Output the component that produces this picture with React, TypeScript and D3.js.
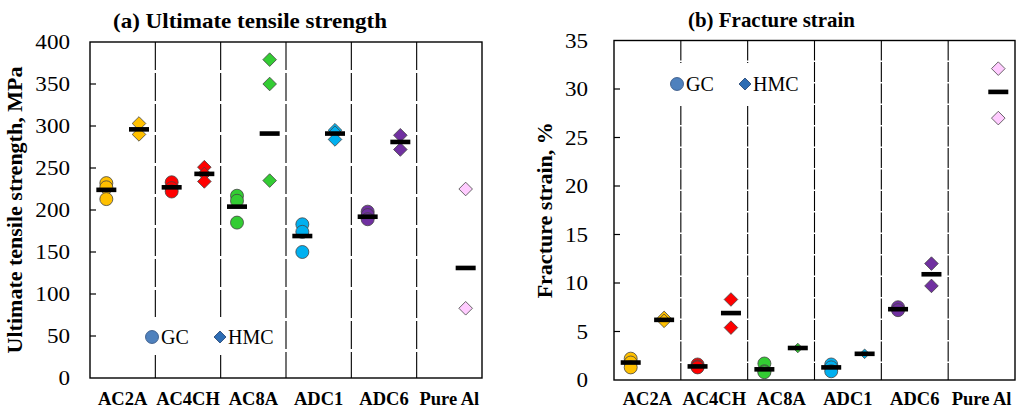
import React, { useEffect, useRef } from 'react';
import * as d3 from 'd3';

// categories and colours
const categories = ['AC2A', 'AC4CH', 'AC8A', 'ADC1', 'ADC6', 'Pure Al'];
const catColors = ['#FFC000', '#FF0000', '#33CC33', '#00B0F0', '#7030A0', '#FFCCFF'];

// (a) ultimate tensile strength, MPa
const utsGC = [[232, 227, 213], [233, 226, 222], [217, 211, 185], [183, 174, 150], [198, 194, 189], []];
const utsHMC = [[303, 290], [251, 243, 234], [379, 350, 235], [295, 292, 284], [289, 272], [225, 83]];
const utsGCMean = [224, 227, 204, 169, 192, null];
const utsHMCMean = [296, 243, 291, 291, 281, 131];
const utsTicks = [0, 50, 100, 150, 200, 250, 300, 350, 400];

// (b) fracture strain, %
const fsGC = [[2.2, 1.8, 1.3], [1.6, 1.4, 1.3], [1.7, 0.9, 0.8], [1.6, 1.3, 0.9], [7.5, 7.2], []];
const fsHMC = [[6.4, 6.1], [8.3, 5.4], [3.3], [2.7], [12.0, 9.7], [32.1, 27.0]];
const fsGCMean = [1.8, 1.4, 1.1, 1.3, 7.3, null];
const fsHMCMean = [6.2, 6.9, 3.3, 2.7, 10.9, 29.7];
const fsTicks = [0, 5, 10, 15, 20, 25, 30, 35];

const FONT = '"Liberation Serif", "Times New Roman", serif';

interface PanelCfg {
  left: number;
  right: number;
  top: number;
  bottom: number;
  max: number;
  ticks: number[];
  gc: number[][];
  hmc: number[][];
  gcMean: (number | null)[];
  hmcMean: (number | null)[];
  title: string;
  titleX: number;
  titleY: number;
  titleLen: number;
  yLabel: string;
  yLabelX: number;
  tickLabelX: number;
  dash: string;
  legend: { x: number; y: number; boxX: number; boxW: number; boxY: number; boxH: number };
  smallHMC: string[];
}

const panels: PanelCfg[] = [
  {
    left: 90, right: 482, top: 42, bottom: 378, max: 400, ticks: utsTicks,
    gc: utsGC, hmc: utsHMC, gcMean: utsGCMean, hmcMean: utsHMCMean,
    title: '(a) Ultimate tensile strength', titleX: 113, titleY: 28, titleLen: 274,
    yLabel: 'Ultimate tensile strength, MPa', yLabelX: 22, tickLabelX: 70,
    dash: '28,3',
    legend: { x: 152, y: 337, boxX: 140, boxW: 140, boxY: 317, boxH: 38 },
    smallHMC: [],
  },
  {
    left: 614, right: 1015, top: 40.5, bottom: 380, max: 35, ticks: fsTicks,
    gc: fsGC, hmc: fsHMC, gcMean: fsGCMean, hmcMean: fsHMCMean,
    title: '(b) Fracture strain', titleX: 688, titleY: 27, titleLen: 167,
    yLabel: 'Fracture strain, %', yLabelX: 552, tickLabelX: 588,
    dash: '20,1.5',
    legend: { x: 677, y: 84, boxX: 665, boxW: 140, boxY: 63, boxH: 43 },
    smallHMC: ['AC8A', 'ADC1'],
  },
];

function drawPanel(svg: d3.Selection<SVGSVGElement, unknown, null, undefined>, p: PanelCfg) {
  const g = svg.append('g');
  const x = d3.scaleBand().domain(categories).range([p.left, p.right]);
  const y = d3.scaleLinear().domain([0, p.max]).range([p.bottom, p.top]);
  const bw = x.bandwidth();
  const off = bw * 0.25;

  // category dividers
  categories.slice(1).forEach(c => {
    g.append('line')
      .attr('x1', x(c)!).attr('x2', x(c)!)
      .attr('y1', p.top).attr('y2', p.bottom)
      .attr('stroke', '#000').attr('stroke-width', 1.1)
      .attr('stroke-dasharray', p.dash);
  });

  // legend box (white, hides the dividers)
  g.append('rect')
    .attr('x', p.legend.boxX).attr('y', p.legend.boxY)
    .attr('width', p.legend.boxW).attr('height', p.legend.boxH)
    .attr('fill', '#fff');

  // frame
  g.append('rect')
    .attr('x', p.left).attr('y', p.top)
    .attr('width', p.right - p.left).attr('height', p.bottom - p.top)
    .attr('fill', 'none').attr('stroke', '#000').attr('stroke-width', 1.4);

  // y ticks (inside) and labels
  p.ticks.forEach(t => {
    if (t !== 0 && t !== p.max) {
      g.append('line')
        .attr('x1', p.left).attr('x2', p.left + 6)
        .attr('y1', y(t)).attr('y2', y(t))
        .attr('stroke', '#000').attr('stroke-width', 1.2);
    }
    g.append('text')
      .attr('transform', `translate(${p.tickLabelX},${y(t) + 7}) scale(1.1,1)`)
      .attr('text-anchor', 'end')
      .attr('font-family', FONT)
      .attr('font-size', 21)
      .attr('fill', '#000')
      .text(t);
  });

  // category labels
  categories.forEach(c => {
    g.append('text')
      .attr('x', x(c)! + bw / 2)
      .attr('y', 405)
      .attr('text-anchor', 'middle')
      .attr('font-family', FONT)
      .attr('font-weight', 'bold')
      .attr('font-size', 18.5)
      .attr('fill', '#000')
      .text(c);
  });

  const diamond = (s: number) => `M0,${-s}L${s},0L0,${s}L${-s},0Z`;

  categories.forEach((c, i) => {
    const cx = x(c)! + bw / 2;
    // GC circles
    p.gc[i].forEach(v => {
      g.append('circle')
        .attr('cx', cx - off).attr('cy', y(v)).attr('r', 6.5)
        .attr('fill', catColors[i]).attr('stroke', '#444').attr('stroke-width', 0.8);
    });
    // HMC diamonds
    const s = p.smallHMC.includes(c) ? 4.8 : 6.8;
    p.hmc[i].forEach(v => {
      g.append('path')
        .attr('d', diamond(s))
        .attr('transform', `translate(${cx + off},${y(v)})`)
        .attr('fill', catColors[i]).attr('stroke', '#444').attr('stroke-width', 0.8);
    });
    // mean bars
    const bars: [number | null, number][] = [[p.gcMean[i], cx - off], [p.hmcMean[i], cx + off]];
    bars.forEach(([m, bx]) => {
      if (m == null) return;
      g.append('rect')
        .attr('x', bx - 10).attr('y', y(m) - 2.3)
        .attr('width', 20).attr('height', 4.6)
        .attr('fill', '#000');
    });
  });

  // legend
  const lg = g.append('g').attr('transform', `translate(${p.legend.x},${p.legend.y})`);
  lg.append('circle').attr('cx', 0).attr('cy', 0).attr('r', 6.5)
    .attr('fill', '#4F81BD').attr('stroke', '#2F4F7F').attr('stroke-width', 0.8);
  lg.append('text').attr('x', 9).attr('y', 7)
    .attr('font-family', FONT).attr('font-size', 20).attr('fill', '#000').text('GC');
  lg.append('path').attr('d', diamond(6)).attr('transform', 'translate(68,0)')
    .attr('fill', '#2E6DB4').attr('stroke', '#1F3F6F').attr('stroke-width', 0.8);
  lg.append('text').attr('x', 76).attr('y', 7)
    .attr('font-family', FONT).attr('font-size', 20).attr('fill', '#000').text('HMC');

  // title
  g.append('text')
    .attr('x', p.titleX).attr('y', p.titleY)
    .attr('font-family', FONT).attr('font-weight', 'bold').attr('font-size', 21)
    .attr('textLength', p.titleLen).attr('lengthAdjust', 'spacingAndGlyphs')
    .attr('fill', '#000')
    .text(p.title);

  // y-axis label
  g.append('text')
    .attr('transform', `translate(${p.yLabelX},${(p.top + p.bottom) / 2}) rotate(-90)`)
    .attr('text-anchor', 'middle')
    .attr('font-family', FONT).attr('font-weight', 'bold').attr('font-size', 22)
    .attr('fill', '#000')
    .text(p.yLabel);
}

export default function App() {
  const svgRef = useRef<SVGSVGElement>(null);

  useEffect(() => {
    if (!svgRef.current) return;
    const svg = d3.select(svgRef.current);
    svg.selectAll('*').remove();
    svg.append('rect').attr('width', 1024).attr('height', 414).attr('fill', '#fff');
    panels.forEach(p => drawPanel(svg, p));
  }, []);

  return (
    <svg
      ref={svgRef}
      width={1024}
      height={414}
      style={{ position: 'absolute', left: 0, top: 0, background: '#fff' }}
    ></svg>
  );
}
